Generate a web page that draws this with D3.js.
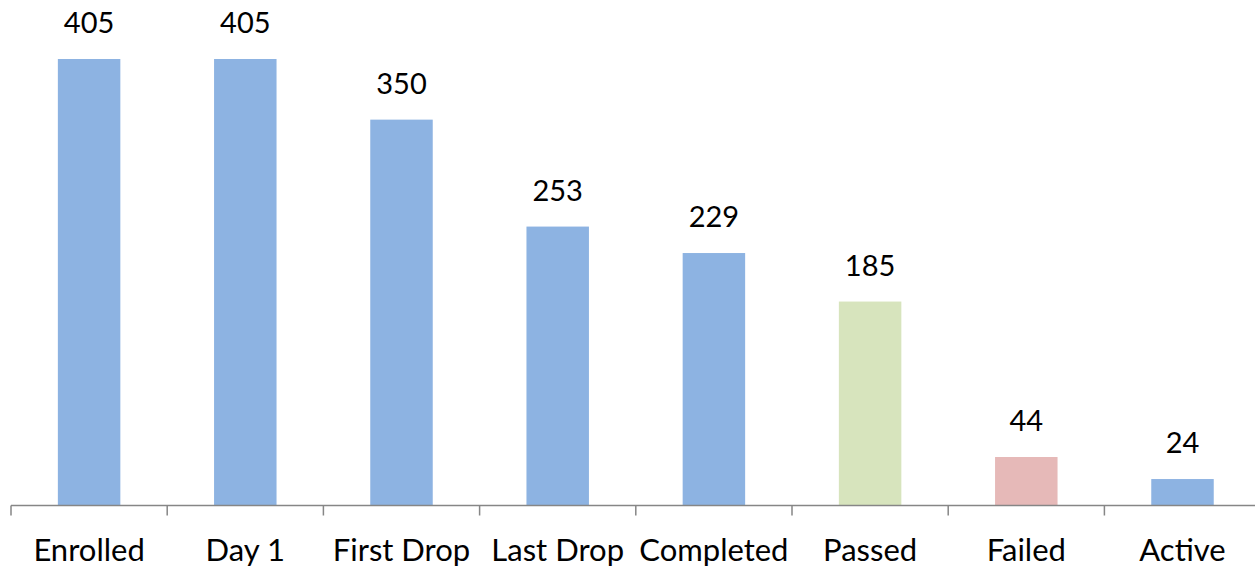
<!DOCTYPE html>
<html>
<head>
<meta charset="utf-8">
<script src="https://cdn.jsdelivr.net/npm/d3@7"></script>
<style>
  body { margin: 0; background: #fff; }
  text { font-family: Lato, "Open Sans", sans-serif; fill: #000; }
</style>
</head>
<body>
<div id="chart"></div>
<script>
var categories = ["Enrolled", "Day 1", "First Drop", "Last Drop", "Completed", "Passed", "Failed", "Active"];
var values = [405, 405, 350, 253, 229, 185, 44, 24];
var colors = ["#8DB3E2", "#8DB3E2", "#8DB3E2", "#8DB3E2", "#8DB3E2", "#D7E4BD", "#E6B9B8", "#8DB3E2"];

var W = 1255, H = 567;
var x0 = 11, step = 156.2, baseY = 505.5, topY = 59;

var svg = d3.select("#chart").append("svg")
    .attr("width", W)
    .attr("height", H);

var x = d3.scaleBand()
    .domain(categories)
    .range([x0, x0 + step * categories.length])
    .paddingInner(0.6)
    .paddingOuter(0.3);

var y = d3.scaleLinear()
    .domain([0, 405])
    .range([baseY, topY]);

svg.selectAll("rect.bar")
    .data(categories)
  .enter().append("rect")
    .attr("class", "bar")
    .attr("x", function(d) { return x(d); })
    .attr("width", x.bandwidth())
    .attr("y", function(d, i) { return y(values[i]); })
    .attr("height", function(d, i) { return baseY - y(values[i]); })
    .style("fill", function(d, i) { return colors[i]; });

// value labels
svg.selectAll("text.val")
    .data(categories)
  .enter().append("text")
    .attr("class", "val")
    .attr("x", function(d) { return x(d) + x.bandwidth() / 2; })
    .attr("y", function(d, i) { return y(values[i]) - 26; })
    .attr("text-anchor", "middle")
    .style("font-size", "29px")
    .text(function(d, i) { return values[i]; });

// axis line and ticks between categories
svg.append("line")
    .attr("x1", x0).attr("x2", W)
    .attr("y1", baseY).attr("y2", baseY)
    .style("stroke", "#868686").style("stroke-width", 1.5);

var tickXs = d3.range(categories.length).map(function(i) { return x0 + i * step; });
svg.selectAll("line.tick")
    .data(tickXs)
  .enter().append("line")
    .attr("class", "tick")
    .attr("x1", function(d) { return d; }).attr("x2", function(d) { return d; })
    .attr("y1", baseY).attr("y2", baseY + 10)
    .style("stroke", "#868686").style("stroke-width", 1.5);

svg.selectAll("text.cat")
    .data(categories)
  .enter().append("text")
    .attr("class", "cat")
    .attr("x", function(d) { return x(d) + x.bandwidth() / 2; })
    .attr("y", 561)
    .attr("text-anchor", "middle")
    .style("font-size", "31px")
    .text(function(d) { return d; });
</script>
</body>
</html>
